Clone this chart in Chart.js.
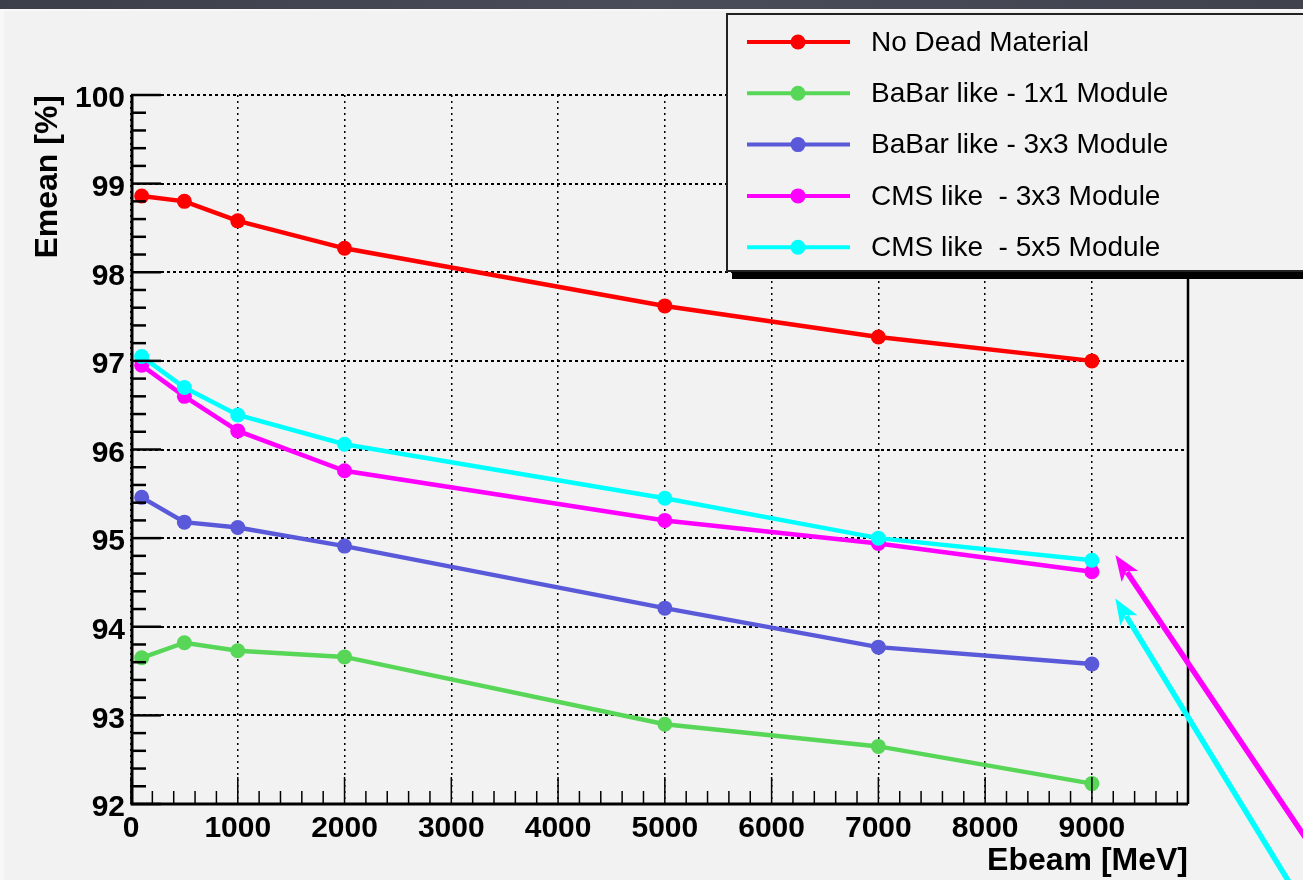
<!DOCTYPE html>
<html>
<head>
<meta charset="utf-8">
<script src="https://cdn.jsdelivr.net/npm/chart.js@4.4.1/dist/chart.umd.min.js"></script>
<style>
  html, body { margin: 0; padding: 0; background: #f2f2f2; }
  #wrap { width: 1303px; height: 880px; position: relative; }
</style>
</head>
<body>
<div id="wrap"><canvas id="myChart"></canvas></div>
<script>
// beam energies (MeV)
const ebeam = [100, 500, 1000, 2000, 5000, 7000, 9000];

// Emean [%] for each setup
const noDead   = [98.86, 98.80, 98.58, 98.27, 97.62, 97.27, 97.00];
const babar1x1 = [93.65, 93.82, 93.73, 93.66, 92.90, 92.65, 92.23];
const babar3x3 = [95.46, 95.18, 95.12, 94.91, 94.21, 93.77, 93.58];
const cms3x3   = [96.95, 96.60, 96.21, 95.76, 95.20, 94.94, 94.62];
const cms5x5   = [97.05, 96.70, 96.39, 96.06, 95.45, 95.00, 94.75];

const labels = ['No Dead Material', 'BaBar like - 1x1 Module', 'BaBar like - 3x3 Module',
                'CMS like  - 3x3 Module', 'CMS like  - 5x5 Module'];
const colors = ['#ff0000', '#57d657', '#5959d9', '#ff00ff', '#00ffff'];

// axis tick values
const xTicks = [0, 1000, 2000, 3000, 4000, 5000, 6000, 7000, 8000, 9000];
const yTicks = [92, 93, 94, 95, 96, 97, 98, 99, 100];

// annotation arrows, tail and tip in data units
const arrows = [
    { color: '#ff00ff', from: [11390, 90.92], to: [9220, 94.81] },
    { color: '#00ffff', from: [11110, 90.60], to: [9220, 94.32] }
];

const series = [noDead, babar1x1, babar3x3, cms3x3, cms5x5];

function pts(ys) {
    return ys.map((y, i) => ({ x: ebeam[i], y: y }));
}

const datasets = series.map((s, i) => ({
    label: labels[i],
    data: pts(s),
    borderColor: colors[i],
    backgroundColor: colors[i],
    borderWidth: 4.5,
    pointRadius: 7.5,
    pointBorderWidth: 0,
    pointHoverRadius: 7.5,
    tension: 0,
    order: 5 - i
}));

const rootStyle = {
    id: 'rootStyle',
    beforeDraw(chart) {
        const c = chart.ctx;
        c.save();
        c.fillStyle = '#f8f8f8';
        c.fillRect(0, 0, chart.width, chart.height);
        let g = c.createLinearGradient(0, 0, chart.width, 0);
        g.addColorStop(0, '#3c3f4a');
        g.addColorStop(0.5, '#4a4d59');
        g.addColorStop(1, '#40434e');
        c.fillStyle = g;
        c.fillRect(0, 0, chart.width, 9);
        c.fillStyle = '#f2f2f2';
        c.fillRect(4, 11, chart.width - 4, chart.height - 11);
        c.restore();
    },
    afterDatasetsDraw(chart) {
        const c = chart.ctx;
        const xs = chart.scales.x, ys = chart.scales.y;
        const a = chart.chartArea;
        c.save();
        c.strokeStyle = '#000';
        // y ticks
        c.lineWidth = 2.5;
        for (let v = 92; v <= 100.001; v += 0.2) {
            const y = ys.getPixelForValue(v);
            const major = Math.abs(v - Math.round(v)) < 0.01;
            c.beginPath();
            c.moveTo(a.left, y);
            c.lineTo(a.left + (major ? 30 : 15), y);
            c.stroke();
        }
        // x ticks
        c.lineWidth = 1.5;
        for (let v = 0; v <= 9800; v += 200) {
            const x = xs.getPixelForValue(v);
            const major = v % 1000 === 0;
            c.beginPath();
            c.moveTo(x, a.bottom);
            c.lineTo(x, a.bottom - (major ? 27 : 13));
            c.stroke();
        }
        // frame
        c.lineWidth = 3;
        c.beginPath();
        c.moveTo(a.left + 1, a.top);
        c.lineTo(a.left + 1, a.bottom);
        c.lineTo(a.right, a.bottom);
        c.stroke();
        c.lineWidth = 2.5;
        c.beginPath();
        c.moveTo(a.right, a.bottom);
        c.lineTo(a.right, 272);
        c.stroke();

        // legend
        c.fillStyle = '#000';
        c.fillRect(732, 271, chart.width - 732, 8);
        c.fillStyle = '#f2f2f2';
        c.fillRect(727, 14, chart.width - 727 + 10, 257);
        c.strokeStyle = '#222';
        c.lineWidth = 2;
        c.strokeRect(727, 14, chart.width - 727 + 10, 257);
        c.font = '28px "Liberation Sans", Arial, sans-serif';
        c.textBaseline = 'middle';
        chart.data.datasets.forEach((d, i) => {
            const y = 42 + i * 51.3;
            c.strokeStyle = d.borderColor;
            c.lineWidth = 4;
            c.beginPath();
            c.moveTo(747, y);
            c.lineTo(850, y);
            c.stroke();
            c.fillStyle = d.borderColor;
            c.beginPath();
            c.arc(798, y, 7.5, 0, Math.PI * 2);
            c.fill();
            c.fillStyle = '#000';
            c.fillText(d.label, 871, y + 1);
        });

        // arrows
        arrows.forEach(ar => {
            const x0 = xs.getPixelForValue(ar.from[0]), y0 = ys.getPixelForValue(ar.from[1]);
            const x1 = xs.getPixelForValue(ar.to[0]), y1 = ys.getPixelForValue(ar.to[1]);
            const ang = Math.atan2(y1 - y0, x1 - x0);
            const len = 26, w = 10;
            c.strokeStyle = ar.color;
            c.fillStyle = ar.color;
            c.lineWidth = 5.5;
            c.beginPath();
            c.moveTo(x0, y0);
            c.lineTo(x1 - Math.cos(ang) * len * 0.8, y1 - Math.sin(ang) * len * 0.8);
            c.stroke();
            c.beginPath();
            c.moveTo(x1, y1);
            c.lineTo(x1 - Math.cos(ang) * len + Math.sin(ang) * w, y1 - Math.sin(ang) * len - Math.cos(ang) * w);
            c.lineTo(x1 - Math.cos(ang) * len * 0.75, y1 - Math.sin(ang) * len * 0.75);
            c.lineTo(x1 - Math.cos(ang) * len - Math.sin(ang) * w, y1 - Math.sin(ang) * len + Math.cos(ang) * w);
            c.closePath();
            c.fill();
        });
        c.restore();
    }
};

const tickFont = { family: '"Liberation Sans", Arial, sans-serif', size: 30, weight: 'bold' };
const titleFont = { family: '"Liberation Sans", Arial, sans-serif', size: 32, weight: 'bold' };

const config = {
    type: 'line',
    data: { datasets: datasets },
    options: {
        responsive: true,
        maintainAspectRatio: false,
        animation: false,
        events: [],
        layout: { padding: { left: 0, top: 95, right: 115, bottom: 0 } },
        plugins: { legend: { display: false }, tooltip: { enabled: false } },
        scales: {
            x: {
                type: 'linear',
                min: 0,
                max: 9900,
                border: { display: false, dash: [2, 4] },
                grid: { color: '#000', lineWidth: 1.5, drawTicks: false },
                afterBuildTicks: s => { s.ticks = xTicks.map(v => ({ value: v })); },
                ticks: {
                    maxRotation: 0,
                    autoSkip: false,
                    color: '#000',
                    font: tickFont,
                    padding: 7,
                    callback: v => v
                },
                title: {
                    display: true,
                    text: 'Ebeam [MeV]',
                    align: 'end',
                    color: '#000',
                    font: titleFont,
                    padding: 0
                },
                afterFit: s => { s.height = 76; }
            },
            y: {
                min: 92,
                max: 100,
                border: { display: false, dash: [3, 3] },
                grid: { color: '#000', lineWidth: 2, drawTicks: false },
                afterBuildTicks: s => { s.ticks = yTicks.map(v => ({ value: v })); },
                ticks: {
                    color: '#000',
                    font: tickFont,
                    padding: 6,
                    labelOffset: 4
                },
                title: {
                    display: true,
                    text: 'Emean [%]',
                    align: 'end',
                    color: '#000',
                    font: titleFont,
                    padding: { top: 29 }
                },
                afterFit: s => { s.width = 131; }
            }
        }
    },
    plugins: [rootStyle]
};

const myChart = new Chart(document.getElementById('myChart'), config);
</script>
</body>
</html>
